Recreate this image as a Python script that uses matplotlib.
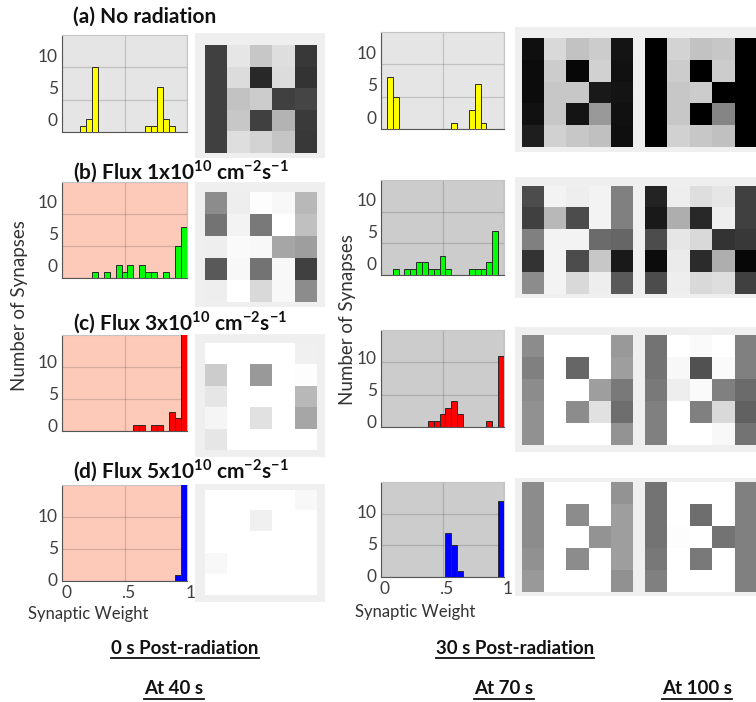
import numpy as np
import matplotlib
matplotlib.use('Agg')
import matplotlib.pyplot as plt
from matplotlib.patches import Rectangle
from matplotlib.lines import Line2D
from matplotlib.transforms import ScaledTranslation

plt.rcParams['font.family'] = ['Lato', 'DejaVu Sans']
plt.rcParams['mathtext.fontset'] = 'custom'
plt.rcParams['mathtext.rm'] = 'Lato'
plt.rcParams['mathtext.bf'] = 'Lato:bold'

W, H = 756, 702

# weight histograms: 21 equal bins on [0, 1]
edges = np.linspace(0, 1, 22)
hist_a_40 = [0, 0, 0, 1, 2, 10, 0, 0, 0, 0, 0, 0, 0, 0, 1, 1, 7, 2, 1, 0, 0]
hist_a_70 = [0, 8, 5, 0, 0, 0, 0, 0, 0, 0, 0, 0, 1, 0, 0, 3, 7, 1, 0, 0, 0]
hist_b_40 = [0, 0, 0, 0, 0, 1, 0, 1, 0, 2, 1, 2, 0, 2, 1, 1, 0, 1, 0, 5, 8]
hist_b_70 = [0, 0, 1, 0, 1, 1, 2, 2, 1, 1, 3, 1, 0, 0, 0, 1, 1, 1, 2, 7, 0]
hist_c_40 = [0, 0, 0, 0, 0, 0, 0, 0, 0, 0, 0, 0, 1, 1, 0, 1, 1, 0, 3, 2, 16]
hist_c_70 = [0, 0, 0, 0, 0, 0, 0, 0, 1, 1, 2, 3, 4, 2, 0, 0, 0, 0, 1, 0, 11]
hist_d_40 = [0, 0, 0, 0, 0, 0, 0, 0, 0, 0, 0, 0, 0, 0, 0, 0, 0, 0, 0, 1, 24]
hist_d_70 = [0, 0, 0, 0, 0, 0, 0, 0, 0, 0, 0, 7, 5, 1, 0, 0, 0, 0, 0, 0, 12]

# 5x5 synaptic weight maps
w_a_40 = [[0.25, 0.90, 0.78, 0.87, 0.22],
          [0.25, 0.86, 0.16, 0.86, 0.20],
          [0.25, 0.76, 0.80, 0.25, 0.27],
          [0.25, 0.78, 0.25, 0.70, 0.23],
          [0.25, 0.87, 0.83, 0.77, 0.22]]
w_a_70 = [[0.06, 0.85, 0.76, 0.80, 0.08],
          [0.05, 0.80, 0.03, 0.82, 0.07],
          [0.05, 0.78, 0.78, 0.10, 0.08],
          [0.07, 0.78, 0.08, 0.60, 0.07],
          [0.12, 0.82, 0.78, 0.75, 0.06]]
w_a_100 = [[0.00, 0.83, 0.76, 0.78, 0.00],
           [0.00, 0.80, 0.00, 0.80, 0.00],
           [0.00, 0.78, 0.80, 0.00, 0.00],
           [0.00, 0.78, 0.00, 0.52, 0.00],
           [0.00, 0.82, 0.78, 0.75, 0.00]]
w_b_40 = [[0.55, 0.93, 0.99, 0.97, 0.72],
          [0.45, 0.95, 0.48, 1.00, 0.75],
          [0.93, 0.98, 0.97, 0.65, 0.62],
          [0.35, 0.97, 0.45, 0.97, 0.25],
          [0.93, 1.00, 0.85, 0.97, 0.55]]
w_b_70 = [[0.30, 0.95, 0.93, 0.95, 0.50],
          [0.25, 0.72, 0.30, 0.95, 0.50],
          [0.50, 0.95, 0.95, 0.42, 0.40],
          [0.20, 0.95, 0.30, 0.78, 0.10],
          [0.55, 0.95, 0.85, 0.93, 0.35]]
w_b_100 = [[0.14, 0.93, 0.87, 0.90, 0.25],
           [0.10, 0.68, 0.16, 0.93, 0.25],
           [0.30, 0.90, 0.85, 0.20, 0.22],
           [0.05, 0.92, 0.17, 0.68, 0.03],
           [0.30, 0.93, 0.85, 0.87, 0.25]]
w_c_40 = [[1.00, 1.00, 1.00, 1.00, 0.94],
          [0.80, 1.00, 0.60, 1.00, 0.99],
          [0.90, 1.00, 1.00, 1.00, 0.72],
          [0.96, 1.00, 0.88, 1.00, 0.65],
          [0.90, 1.00, 1.00, 1.00, 1.00]]
w_c_70 = [[0.55, 1.00, 1.00, 1.00, 0.60],
          [0.50, 1.00, 0.40, 1.00, 0.62],
          [0.55, 1.00, 1.00, 0.62, 0.48],
          [0.57, 1.00, 0.55, 0.88, 0.43],
          [0.57, 1.00, 1.00, 1.00, 0.58]]
w_c_100 = [[0.45, 1.00, 0.98, 1.00, 0.50],
           [0.45, 0.97, 0.32, 0.98, 0.50],
           [0.48, 0.93, 0.98, 0.50, 0.42],
           [0.50, 1.00, 0.50, 0.85, 0.38],
           [0.50, 1.00, 1.00, 0.97, 0.45]]
w_d_40 = [[1.00, 1.00, 1.00, 1.00, 0.97],
          [1.00, 1.00, 0.94, 1.00, 1.00],
          [1.00, 1.00, 1.00, 1.00, 1.00],
          [0.97, 1.00, 1.00, 1.00, 1.00],
          [1.00, 1.00, 1.00, 1.00, 1.00]]
w_d_70 = [[0.55, 1.00, 1.00, 1.00, 0.58],
          [0.55, 1.00, 0.55, 1.00, 0.62],
          [0.55, 1.00, 1.00, 0.58, 0.62],
          [0.57, 1.00, 0.55, 1.00, 0.62],
          [0.60, 1.00, 1.00, 1.00, 0.57]]
w_d_100 = [[0.45, 1.00, 1.00, 1.00, 0.50],
           [0.45, 1.00, 0.43, 1.00, 0.50],
           [0.45, 0.99, 1.00, 0.45, 0.50],
           [0.47, 1.00, 0.48, 1.00, 0.50],
           [0.50, 1.00, 1.00, 1.00, 0.50]]

titles = ['(a) No radiation',
          r'(b) Flux 1x10$^{\mathbf{10}}$ cm$^{\mathbf{-2}}$s$^{\mathbf{-1}}$',
          r'(c) Flux 3x10$^{\mathbf{10}}$ cm$^{\mathbf{-2}}$s$^{\mathbf{-1}}$',
          r'(d) Flux 5x10$^{\mathbf{10}}$ cm$^{\mathbf{-2}}$s$^{\mathbf{-1}}$']
bar_colors = ['#ffff00', '#00ff00', '#ff0000', '#0000ff']
hists = [(hist_a_40, hist_a_70), (hist_b_40, hist_b_70),
         (hist_c_40, hist_c_70), (hist_d_40, hist_d_70)]
maps = [(w_a_40, w_a_70, w_a_100), (w_b_40, w_b_70, w_b_100),
        (w_c_40, w_c_70, w_c_100), (w_d_40, w_d_70, w_d_100)]

# layout in pixels (top, bottom) for each row
title_y = [17, 172, 323, 471]
hist_l_y = [(35, 132), (182, 278), (335, 431), (485, 581)]
hist_r_y = [(32, 129), (180, 275), (330, 427), (482, 577)]
frame_l_y = [(33, 158), (182, 307), (334, 457), (484, 602)]
map_l_y = [(45, 153), (192, 302), (343, 450), (490, 595)]
frame_r_y = [(27, 152), (177, 298), (327, 452), (478, 596)]
map_r_y = [(38, 147), (186, 294), (335, 445), (482, 592)]
label_shift = [12, 12, 5, 2]

fig = plt.figure(figsize=(W / 100, H / 100), dpi=100)


def px_axes(x0, y0, x1, y1):
    return fig.add_axes([x0 / W, 1 - y1 / H, (x1 - x0) / W, (y1 - y0) / H])


def px_rect(x0, y0, x1, y1, color):
    fig.add_artist(Rectangle((x0 / W, 1 - y1 / H), (x1 - x0) / W, (y1 - y0) / H,
                             transform=fig.transFigure, fc=color, ec='none', zorder=-1))


def draw_hist(ax, counts, color, bg, shift, bottom_labels):
    counts = np.asarray(counts)
    nz = counts > 0
    ax.bar(edges[:-1][nz], counts[nz], width=1 / 21, align='edge', color=color,
           edgecolor='#2a2a2a', linewidth=0.7, zorder=3)
    ax.set_facecolor(bg)
    ax.set_xlim(0, 1)
    ax.set_ylim(0, 15)
    ax.set_xticks([0, 0.5, 1])
    ax.set_yticks([0, 5, 10])
    ax.set_yticklabels(['0', '5', '10'])
    if bottom_labels:
        ax.set_xticklabels(['0', '.5', '1'])
    else:
        ax.set_xticklabels([])
    ax.tick_params(length=0, labelsize=12.5, colors='#404040')
    ax.tick_params(axis='y', pad=3)
    ax.tick_params(axis='x', pad=3)
    ax.grid(True, color='k', alpha=0.15, lw=0.9, zorder=1)
    for side in ['top', 'right']:
        ax.spines[side].set_color('#c4c4c4')
    for side in ['left', 'bottom']:
        ax.spines[side].set_color('#555555')
    off = ScaledTranslation(0, shift / 100, fig.dpi_scale_trans)
    for lab in ax.get_yticklabels():
        lab.set_transform(lab.get_transform() + off)
    if bottom_labels:
        nudge = ScaledTranslation(4 / 100, 0, fig.dpi_scale_trans)
        for lab in ax.get_xticklabels():
            lab.set_transform(lab.get_transform() + nudge)


def draw_map(ax, w):
    ax.imshow(np.asarray(w), cmap='gray', vmin=0, vmax=1,
              interpolation='nearest', aspect='auto')
    ax.set_axis_off()


for i in range(4):
    h40, h70 = hists[i]
    m40, m70, m100 = maps[i]
    left_bg = '#e5e5e5' if i == 0 else '#fdc9b9'
    right_bg = '#e5e5e5' if i == 0 else '#cccccc'

    ax = px_axes(62, hist_l_y[i][0], 187, hist_l_y[i][1])
    draw_hist(ax, h40, bar_colors[i], left_bg, label_shift[i], i == 3)
    ax = px_axes(381, hist_r_y[i][0], 504, hist_r_y[i][1])
    draw_hist(ax, h70, bar_colors[i], right_bg, label_shift[i], i == 3)

    px_rect(195, frame_l_y[i][0], 325, frame_l_y[i][1], '#efefef')
    px_rect(515, frame_r_y[i][0], 790, frame_r_y[i][1], '#efefef')
    draw_map(px_axes(205, map_l_y[i][0], 317, map_l_y[i][1]), m40)
    draw_map(px_axes(522, map_r_y[i][0], 633, map_r_y[i][1]), m70)
    draw_map(px_axes(645, map_r_y[i][0], 757, map_r_y[i][1]), m100)

    fig.text(73 / W, 1 - title_y[i] / H, titles[i], ha='left', va='center',
             fontsize=15, fontweight='bold', color='#111111', zorder=5)

fig.text(20 / W, 1 - 306 / H, 'Number of Synapses', rotation=90,
         ha='center', va='center', fontsize=13.5, color='#333333')
fig.text(347 / W, 1 - 320 / H, 'Number of Synapses', rotation=90,
         ha='center', va='center', fontsize=13.5, color='#333333')
fig.text(88 / W, 1 - 614 / H, 'Synaptic Weight', ha='center', va='center',
         fontsize=12, color='#333333')
fig.text(415 / W, 1 - 612 / H, 'Synaptic Weight', ha='center', va='center',
         fontsize=12, color='#333333')

# underlined captions for the time columns
captions = [('0 s Post-radiation', 185, 648), ('30 s Post-radiation', 515, 648),
            ('At 40 s', 174, 689), ('At 70 s', 504, 689), ('At 100 s', 697, 689)]
cap_texts = []
for txt, cx, cy in captions:
    t = fig.text(cx / W, 1 - cy / H, txt, ha='center', va='center',
                 fontsize=13.5, fontweight='bold', color='#111111')
    cap_texts.append(t)

fig.canvas.draw()
renderer = fig.canvas.get_renderer()
for t in cap_texts:
    bb = t.get_window_extent(renderer)
    y = bb.y0 - 1
    fig.add_artist(Line2D([bb.x0 / W, bb.x1 / W], [y / H, y / H],
                          transform=fig.transFigure, color='#111111', lw=1.3))

fig.savefig('out.png', dpi=100)
